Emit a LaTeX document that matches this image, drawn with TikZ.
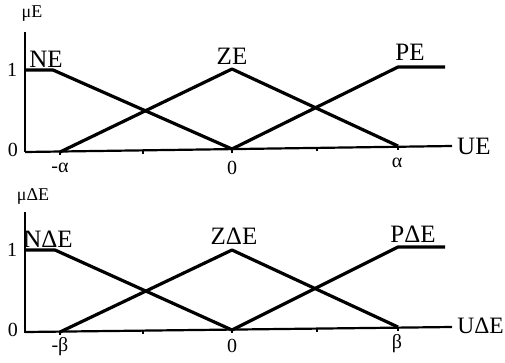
\documentclass[tikz,border=0pt]{standalone}
\usepackage{fontspec}
\setmainfont{Liberation Serif}
\begin{document}
\begin{tikzpicture}[x=1pt,y=-1pt,
  curve/.style={line width=3.2pt,line join=round},
  axis/.style={line width=2.2pt},
  big/.style={inner sep=0pt,font=\fontsize{25}{25}\selectfont},
  mid/.style={inner sep=0pt,font=\fontsize{20}{20}\selectfont},
  small/.style={inner sep=0pt,font=\fontsize{18}{18}\selectfont}]
\useasboundingbox (0,0) rectangle (505,362);
% ---------- top plot ----------
\draw[axis] (25,32) -- (25,152);
\draw[axis] (25,152) -- (452,146);
\foreach \x/\y in {60/151.5,143/150.5,232/149,317/147.5,398/146.5}
  \draw[line width=1.4pt] (\x,\y) -- (\x,\y+3.5);
\draw[curve] (25,70) -- (53,70) -- (232,149);
\draw[curve] (60,152) -- (232,69) -- (398,146);
\draw[curve] (232,149) -- (398,67) -- (445,67);
\node[small] (muE) at (32,14) {μE};
\node[big] (NE) at (46,59) {NE};
\node[big] (ZE) at (232,56) {ZE};
\node[big] (PE) at (410,52) {PE};
\node[big,anchor=west] (UE) at (457,146) {UE};
\node[mid] (one1) at (12,70) {1};
\node[mid] (zero1) at (13,150) {0};
\node[mid] (ma) at (60,168) {-α};
\node[mid] (z1) at (232,168) {0};
\node[mid] (pa) at (397,163) {α};
% ---------- bottom plot ----------
\draw[axis] (25,212) -- (25,333);
\draw[axis] (25,332) -- (452,327);
\foreach \x/\y in {60/331.5,143/330.5,232/329,317/328,398/327}
  \draw[line width=1.4pt] (\x,\y) -- (\x,\y+3.5);
\draw[curve] (25,250) -- (55,250) -- (232,330);
\draw[curve] (60,332) -- (232,250) -- (398,327);
\draw[curve] (232,330) -- (398,247) -- (445,247);
\node[small] (muDE) at (33,196) {μΔE};
\node[big] (NDE) at (48,239) {NΔE};
\node[big] (ZDE) at (234,236) {ZΔE};
\node[big] (PDE) at (413,234) {PΔE};
\node[anchor=east,inner sep=0pt,font=\fontsize{23.5}{23.5}\selectfont] (UDE) at (504,326) {UΔE};
\node[mid] (one2) at (12,250) {1};
\node[mid] (zero2) at (13,330) {0};
\node[mid] (mb) at (60,347) {-β};
\node[mid] (z2) at (232,346) {0};
\node[mid] (pb) at (397,344) {β};
\end{tikzpicture}
\end{document}
